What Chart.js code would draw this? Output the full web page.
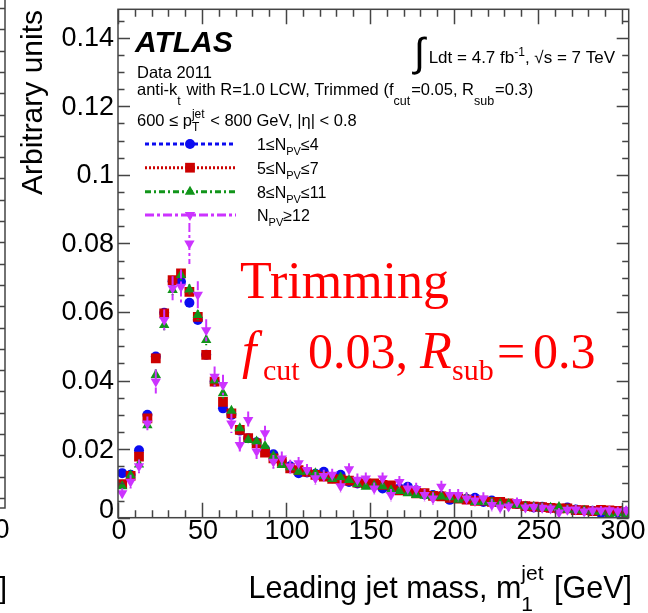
<!DOCTYPE html>
<html>
<head>
<meta charset="utf-8">
<script src="https://cdn.jsdelivr.net/npm/chart.js@4.4.1/dist/chart.umd.min.js"></script>
<style>
  html, body { margin: 0; padding: 0; background: #fff; overflow: hidden; }
  canvas { display: block; }
</style>
</head>
<body>
<canvas id="massChart" width="648" height="613"></canvas>
<script>
// Leading-jet mass, 5 GeV bins (bin centres, GeV)
const massBins = [2.5, 7.5, 12.5, 17.5, 22.5, 27.5, 32.5, 37.5, 42.5, 47.5,
  52.5, 57.5, 62.5, 67.5, 72.5, 77.5, 82.5, 87.5, 92.5, 97.5,
  102.5, 107.5, 112.5, 117.5, 122.5, 127.5, 132.5, 137.5, 142.5, 147.5,
  152.5, 157.5, 162.5, 167.5, 172.5, 177.5, 182.5, 187.5, 192.5, 197.5,
  202.5, 207.5, 212.5, 217.5, 222.5, 227.5, 232.5, 237.5, 242.5, 247.5,
  252.5, 257.5, 262.5, 267.5, 272.5, 277.5, 282.5, 287.5, 292.5, 297.5, 302.5];

// Normalised distributions per pile-up bin (arbitrary units)
const npv1to4 = [0.0130, 0.0125, 0.0197, 0.0300, 0.0470, 0.0598, 0.0690, 0.0688, 0.0627, 0.0577,
  0.0475, 0.0397, 0.0319, 0.0300, 0.0254, 0.0232, 0.0220, 0.0200, 0.0185, 0.0165,
  0.0150, 0.0130, 0.0132, 0.0128, 0.0134, 0.0115, 0.0125, 0.0104, 0.0100, 0.0098,
  0.0094, 0.0085, 0.0088, 0.0086, 0.0090, 0.0080, 0.0068, 0.0066, 0.0063, 0.0052,
  0.0060, 0.0055, 0.0058, 0.0046, 0.0050, 0.0044, 0.0040, 0.0040, 0.0034, 0.0030,
  0.0032, 0.0028, 0.0026, 0.0030, 0.0024, 0.0021, 0.0020, 0.0013, 0.0016, 0.0015, 0.0016];
const npv5to7 = [0.0098, 0.0122, 0.0178, 0.0290, 0.0465, 0.0596, 0.0693, 0.0713, 0.0659, 0.0586,
  0.0475, 0.0397, 0.0338, 0.0304, 0.0256, 0.0232, 0.0217, 0.0190, 0.0173, 0.0163,
  0.0144, 0.0139, 0.0134, 0.0125, 0.0120, 0.0113, 0.0112, 0.0108, 0.0102, 0.0100,
  0.0100, 0.0096, 0.0094, 0.0080, 0.0078, 0.0071, 0.0072, 0.0064, 0.0062, 0.0058,
  0.0056, 0.0053, 0.0049, 0.0050, 0.0046, 0.0046, 0.0042, 0.0040, 0.0034, 0.0032,
  0.0031, 0.0029, 0.0027, 0.0027, 0.0022, 0.0022, 0.0019, 0.0023, 0.0021, 0.0020, 0.0015];
const npv8to11 = [0.0092, 0.0124, 0.0155, 0.0270, 0.0416, 0.0562, 0.0664, 0.0708, 0.0666, 0.0591,
  0.0518, 0.0400, 0.0363, 0.0312, 0.0261, 0.0227, 0.0222, 0.0209, 0.0180, 0.0154,
  0.0147, 0.0134, 0.0134, 0.0130, 0.0122, 0.0113, 0.0118, 0.0110, 0.0098, 0.0090,
  0.0093, 0.0092, 0.0080, 0.0078, 0.0071, 0.0066, 0.0064, 0.0062, 0.0062, 0.0060,
  0.0052, 0.0058, 0.0046, 0.0046, 0.0044, 0.0041, 0.0040, 0.0037, 0.0033, 0.0032,
  0.0029, 0.0029, 0.0031, 0.0023, 0.0022, 0.0020, 0.0018, 0.0017, 0.0009, 0.0013, 0.0008];
const npv12up = [0.0071, 0.0105, 0.0150, 0.0275, 0.0397, 0.0577, 0.0669, 0.0674, 0.0800, 0.0650,
  0.0547, 0.0411, 0.0387, 0.0275, 0.0212, 0.0285, 0.0193, 0.0246, 0.0163, 0.0173,
  0.0149, 0.0159, 0.0139, 0.0115, 0.0122, 0.0125, 0.0092, 0.0141, 0.0111, 0.0114,
  0.0085, 0.0114, 0.0066, 0.0104, 0.0085, 0.0084, 0.0066, 0.0056, 0.0090, 0.0066,
  0.0066, 0.0056, 0.0050, 0.0056, 0.0037, 0.0030, 0.0033, 0.0046, 0.0030, 0.0031,
  0.0029, 0.0027, 0.0015, 0.0023, 0.0024, 0.0018, 0.0021, 0.0021, 0.0022, 0.0019, 0.0022];

// Statistical uncertainties
const err1to4 = [0.0008, 0.0008, 0.0008, 0.0008, 0.0010, 0.0010, 0.0010, 0.0010, 0.0010, 0.0010,
  0.0010, 0.0010, 0.0010, 0.0007, 0.0007, 0.0007, 0.0007, 0.0007, 0.0007, 0.0007,
  0.0007, 0.0004, 0.0004, 0.0004, 0.0004, 0.0004, 0.0004, 0.0004, 0.0004, 0.0004,
  0.0004, 0.0004, 0.0004, 0.0004, 0.0004, 0.0004, 0.0004, 0.0004, 0.0004, 0.0004,
  0.0004, 0.0004, 0.0004, 0.0004, 0.0004, 0.0004, 0.0004, 0.0004, 0.0004, 0.0004,
  0.0004, 0.0004, 0.0004, 0.0004, 0.0004, 0.0004, 0.0004, 0.0004, 0.0004, 0.0004, 0.0004];
const err5to7 = [0.0008, 0.0008, 0.0008, 0.0008, 0.0009, 0.0009, 0.0009, 0.0009, 0.0009, 0.0009,
  0.0009, 0.0009, 0.0009, 0.0007, 0.0007, 0.0007, 0.0007, 0.0007, 0.0007, 0.0007,
  0.0007, 0.0004, 0.0004, 0.0004, 0.0004, 0.0004, 0.0004, 0.0004, 0.0004, 0.0004,
  0.0004, 0.0004, 0.0004, 0.0004, 0.0004, 0.0004, 0.0004, 0.0004, 0.0004, 0.0004,
  0.0004, 0.0004, 0.0004, 0.0004, 0.0004, 0.0004, 0.0004, 0.0004, 0.0004, 0.0004,
  0.0004, 0.0004, 0.0004, 0.0004, 0.0004, 0.0004, 0.0004, 0.0004, 0.0004, 0.0004, 0.0004];
const err8to11 = [0.0012, 0.0012, 0.0012, 0.0012, 0.0016, 0.0015, 0.0015, 0.0015, 0.0015, 0.0015,
  0.0015, 0.0015, 0.0015, 0.0010, 0.0010, 0.0010, 0.0010, 0.0010, 0.0010, 0.0010,
  0.0010, 0.0006, 0.0006, 0.0006, 0.0006, 0.0006, 0.0006, 0.0006, 0.0006, 0.0006,
  0.0006, 0.0006, 0.0006, 0.0006, 0.0006, 0.0006, 0.0006, 0.0006, 0.0006, 0.0006,
  0.0006, 0.0006, 0.0006, 0.0006, 0.0006, 0.0006, 0.0006, 0.0006, 0.0006, 0.0006,
  0.0006, 0.0006, 0.0006, 0.0006, 0.0006, 0.0006, 0.0006, 0.0006, 0.0006, 0.0006, 0.0006];
const err12up = [0.0015, 0.0020, 0.0020, 0.0020, 0.0035, 0.0030, 0.0035, 0.0050, 0.0060, 0.0040,
  0.0032, 0.0030, 0.0030, 0.0028, 0.0025, 0.0025, 0.0022, 0.0022, 0.0020, 0.0020,
  0.0020, 0.0018, 0.0018, 0.0018, 0.0018, 0.0018, 0.0018, 0.0018, 0.0018, 0.0018,
  0.0018, 0.0018, 0.0018, 0.0018, 0.0018, 0.0018, 0.0018, 0.0018, 0.0018, 0.0018,
  0.0018, 0.0018, 0.0018, 0.0018, 0.0018, 0.0018, 0.0013, 0.0013, 0.0013, 0.0013,
  0.0013, 0.0013, 0.0013, 0.0013, 0.0013, 0.0013, 0.0013, 0.0013, 0.0013, 0.0013, 0.0013];

// Axis ticks
const xTickValues = [0, 50, 100, 150, 200, 250, 300];
const xTickLabels = ['0', '50', '100', '150', '200', '250', '300'];
const yTickValues = [0, 0.02, 0.04, 0.06, 0.08, 0.1, 0.12, 0.14];
const yTickLabels = ['0', '0.02', '0.04', '0.06', '0.08', '0.1', '0.12', '0.14'];

const SANS = '"Liberation Sans", Arial, Helvetica, sans-serif';
const SERIF = '"Liberation Serif", "Times New Roman", serif';

// Pile-up categories: legend text pieces, data and marker/line styling
const series = [
  { lead: '1≤N', sub: 'PV', tail: '≤4', values: npv1to4, errors: err1to4,
    color: '#0b0bf0', style: 'circle', radius: 5, rotation: 0, dash: [4, 3], order: 4 },
  { lead: '5≤N', sub: 'PV', tail: '≤7', values: npv5to7, errors: err5to7,
    color: '#cc0000', style: 'rect', radius: 6.9, rotation: 0, dash: [2, 2], order: 3 },
  { lead: '8≤N', sub: 'PV', tail: '≤11', values: npv8to11, errors: err8to11,
    color: '#11951a', style: 'triangle', radius: 6, rotation: 0, dash: [6, 3, 2, 3], order: 2 },
  { lead: 'N', sub: 'PV', tail: '≥12', values: npv12up, errors: err12up,
    color: '#cc33ff', style: 'triangle', radius: 6, rotation: 180, dash: [9, 3, 3, 3], order: 1 }
];

// Draws a run of text pieces; a piece may carry a size, style, vertical shift,
// or a stacked superscript/subscript pair.
function drawRich(ctx, x, y, parts, size, family, align) {
  const font = (sz, st) => { ctx.font = `${st || ''} ${sz}px ${family}`; };
  const widthOf = p => {
    if (p.stack) {
      font(p.size);
      return Math.max(ctx.measureText(p.stack[0]).width, ctx.measureText(p.stack[1]).width);
    }
    font(p.size || size, p.style);
    return ctx.measureText(p.t).width;
  };
  const total = parts.reduce((s, p) => s + widthOf(p) + (p.gap || 0), 0);
  let cx = align === 'right' ? x - total : x;
  const start = cx;
  ctx.textAlign = 'left';
  ctx.textBaseline = 'alphabetic';
  for (const p of parts) {
    const w = widthOf(p);
    if (p.stack) {
      font(p.size);
      ctx.fillText(p.stack[0], cx, y + p.dy[0]);
      ctx.fillText(p.stack[1], cx, y + p.dy[1]);
    } else {
      font(p.size || size, p.style);
      ctx.fillText(p.t, cx + (p.dx || 0), y + (p.dy || 0));
    }
    cx += w + (p.gap || 0);
  }
  return { start, end: cx };
}

function drawMarker(ctx, s, x, y) {
  Chart.helpers.drawPoint(ctx, {
    pointStyle: s.style, radius: s.radius, rotation: s.rotation, borderWidth: 0
  }, x, y);
}

// Error bars of each histogram, drawn just before its markers
const errorBars = {
  id: 'errorBars',
  beforeDatasetDraw(chart, args) {
    const s = series[args.index];
    const { ctx, chartArea: a } = chart;
    const xs = chart.scales.x, ys = chart.scales.y;
    ctx.save();
    ctx.beginPath();
    ctx.rect(a.left, a.top, a.right - a.left, a.bottom - a.top);
    ctx.clip();
    ctx.strokeStyle = s.color;
    ctx.lineWidth = 2;
    ctx.setLineDash(s.dash);
    massBins.forEach((m, i) => {
      const px = xs.getPixelForValue(m);
      ctx.beginPath();
      ctx.moveTo(px, ys.getPixelForValue(s.values[i] + s.errors[i]));
      ctx.lineTo(px, ys.getPixelForValue(s.values[i] - s.errors[i]));
      ctx.stroke();
    });
    ctx.restore();
  }
};

// Frame with inward ticks on all four sides, tick labels and axis titles
const frameAxes = {
  id: 'frameAxes',
  afterDatasetsDraw(chart) {
    const { ctx, chartArea: a } = chart;
    const xs = chart.scales.x, ys = chart.scales.y;
    ctx.save();
    ctx.strokeStyle = '#444';
    ctx.lineWidth = 1.5;
    ctx.beginPath();
    const xMajor = 15, xMinor = 7.5, yMajor = 12, yMinor = 6.5;
    const xStep = (xTickValues[1] - xTickValues[0]) / 5;
    for (let v = 0; v <= xs.max + 1e-9; v += xStep) {
      const px = Math.round(xs.getPixelForValue(v)) + 0.5;
      const major = xTickValues.some(t => Math.abs(t - v) < 1e-6);
      const len = major ? xMajor : xMinor;
      ctx.moveTo(px, a.bottom); ctx.lineTo(px, a.bottom - len);
      ctx.moveTo(px, a.top); ctx.lineTo(px, a.top + len);
    }
    const yStep = (yTickValues[1] - yTickValues[0]) / 4;
    for (let k = 0; k * yStep <= ys.max + 1e-9; k++) {
      const v = k * yStep;
      const py = Math.round(ys.getPixelForValue(v)) + 0.5;
      const len = k % 4 === 0 ? yMajor : yMinor;
      ctx.moveTo(a.left, py); ctx.lineTo(a.left + len, py);
      ctx.moveTo(a.right, py); ctx.lineTo(a.right - len, py);
    }
    ctx.stroke();
    ctx.strokeRect(a.left, a.top, a.right - a.left, a.bottom - a.top);

    // tick labels
    ctx.fillStyle = '#000';
    ctx.font = `27px ${SANS}`;
    ctx.textAlign = 'center';
    ctx.textBaseline = 'alphabetic';
    xTickValues.forEach((v, i) => {
      ctx.fillText(xTickLabels[i], xs.getPixelForValue(v) + 1, a.bottom + 21.5);
    });
    ctx.textAlign = 'right';
    ctx.textBaseline = 'middle';
    yTickValues.forEach((v, i) => {
      const py = Math.min(ys.getPixelForValue(v), a.bottom - 8);
      ctx.fillText(yTickLabels[i], a.left - 4, py + 1);
    });

    // axis titles
    ctx.save();
    ctx.translate(42, 10);
    ctx.rotate(-Math.PI / 2);
    ctx.font = `30px ${SANS}`;
    ctx.textAlign = 'right';
    ctx.textBaseline = 'alphabetic';
    ctx.fillText('Arbitrary units', 0, 0);
    ctx.restore();
    drawRich(ctx, 632, 598, [
      { t: 'Leading jet mass, m' },
      { stack: ['jet', '1'], size: 21, dy: [-18, 13], gap: 2 },
      { t: ' [GeV]' }
    ], 30.5, SANS, 'right');
    ctx.restore();
  }
};

// Labels, legend, annotations and the edge of the neighbouring panel
const annotations = {
  id: 'annotations',
  afterDraw(chart) {
    const { ctx } = chart;
    ctx.save();
    ctx.fillStyle = '#000';
    ctx.textAlign = 'left';
    ctx.textBaseline = 'alphabetic';

    ctx.font = `italic bold 30px ${SANS}`;
    ctx.fillText('ATLAS', 135, 52);

    ctx.font = `16.5px ${SANS}`;
    ctx.fillText('Data 2011', 137, 78);

    drawRich(ctx, 137, 95, [
      { t: 'anti-k' }, { t: 't', size: 12.5, dy: 10, gap: 1 },
      { t: ' with R=1.0 LCW, Trimmed (f' }, { t: 'cut', size: 12.5, dy: 10, gap: 1 },
      { t: '=0.05, R' }, { t: 'sub', size: 12.5, dy: 10, gap: 1 }, { t: '=0.3)' }
    ], 16.5, SANS);

    drawRich(ctx, 137, 126, [
      { t: '600 ≤ p' }, { stack: ['jet', 'T'], size: 12, dy: [-8, 5], gap: 1 },
      { t: ' < 800 GeV, |η| < 0.8' }
    ], 16.5, SANS);

    const lum = drawRich(ctx, 615, 63, [
      { t: 'Ldt = 4.7 fb' }, { t: '-1', size: 12, dy: -7 },
      { t: ', √s = 7 TeV' }
    ], 17, SANS, 'right');
    ctx.font = `40px ${SANS}`;
    ctx.textAlign = 'right';
    ctx.fillText('∫', lum.start - 4, 66);

    // legend
    const rowY = [144, 167.7, 191.7, 215];
    series.forEach((s, i) => {
      const y = rowY[i];
      ctx.save();
      ctx.strokeStyle = s.color;
      ctx.lineWidth = 3;
      ctx.setLineDash(s.dash);
      ctx.beginPath();
      ctx.moveTo(145, y); ctx.lineTo(236, y);
      ctx.stroke();
      ctx.restore();
      ctx.fillStyle = s.color;
      drawMarker(ctx, s, 190, y);
      ctx.fillStyle = '#000';
      drawRich(ctx, 257, y + 6, [
        { t: s.lead }, { t: s.sub, size: 11, dy: 5 }, { t: s.tail }
      ], 16, SANS);
    });

    // trimming parameters
    ctx.fillStyle = '#ff0000';
    ctx.textAlign = 'left';
    ctx.font = `52px ${SERIF}`;
    ctx.fillText('Trimming', 240, 298);
    ctx.font = `italic 52px ${SERIF}`;
    ctx.fillText('f', 242, 368);
    ctx.font = `30px ${SERIF}`;
    ctx.fillText('cut', 263, 380);
    ctx.font = `50px ${SERIF}`;
    ctx.fillText('0.03,', 308, 368);
    ctx.font = `italic 52px ${SERIF}`;
    ctx.fillText('R', 420, 368);
    ctx.font = `30px ${SERIF}`;
    ctx.fillText('sub', 452, 380);
    ctx.font = `50px ${SERIF}`;
    ctx.fillText('=', 497, 368);
    ctx.fillText('0.3', 533, 368);

    // right edge of the neighbouring panel
    ctx.save();
    ctx.beginPath();
    ctx.rect(0, 0, 10, 613);
    ctx.clip();
    ctx.strokeStyle = '#444';
    ctx.lineWidth = 1.5;
    ctx.beginPath();
    ctx.moveTo(5, 0); ctx.lineTo(5, 508); ctx.lineTo(0, 508);
    for (let ty = 8; ty < 500; ty += 21.3) {
      ctx.moveTo(5, Math.round(ty) + 0.5); ctx.lineTo(0, Math.round(ty) + 0.5);
    }
    ctx.stroke();
    ctx.fillStyle = '#000';
    ctx.font = `27px ${SANS}`;
    ctx.textAlign = 'center';
    ctx.fillText('300', 2, 538);
    ctx.font = `30px ${SANS}`;
    ctx.textAlign = 'right';
    ctx.fillText('[GeV]', 7, 598);
    ctx.restore();

    ctx.restore();
  }
};

const datasets = series.map(s => ({
  label: s.lead + s.sub + s.tail,
  data: massBins.map((m, i) => ({ x: m, y: s.values[i] })),
  pointStyle: s.style,
  pointRadius: s.radius,
  pointRotation: s.rotation,
  pointBackgroundColor: s.color,
  pointBorderColor: s.color,
  pointBorderWidth: 0,
  backgroundColor: s.color,
  borderColor: s.color,
  showLine: false,
  order: s.order,
  clip: 0
}));

new Chart(document.getElementById('massChart'), {
  type: 'scatter',
  data: { datasets },
  options: {
    responsive: false,
    devicePixelRatio: 1,
    animation: false,
    events: [],
    layout: { padding: { left: 118, right: 19.3, top: 9.3, bottom: 95.3 } },
    plugins: { legend: { display: false }, tooltip: { enabled: false } },
    scales: {
      x: { type: 'linear', min: 0, max: 304, display: false },
      y: { type: 'linear', min: 0, max: 0.1483, display: false }
    }
  },
  plugins: [errorBars, frameAxes, annotations]
});
</script>
</body>
</html>
